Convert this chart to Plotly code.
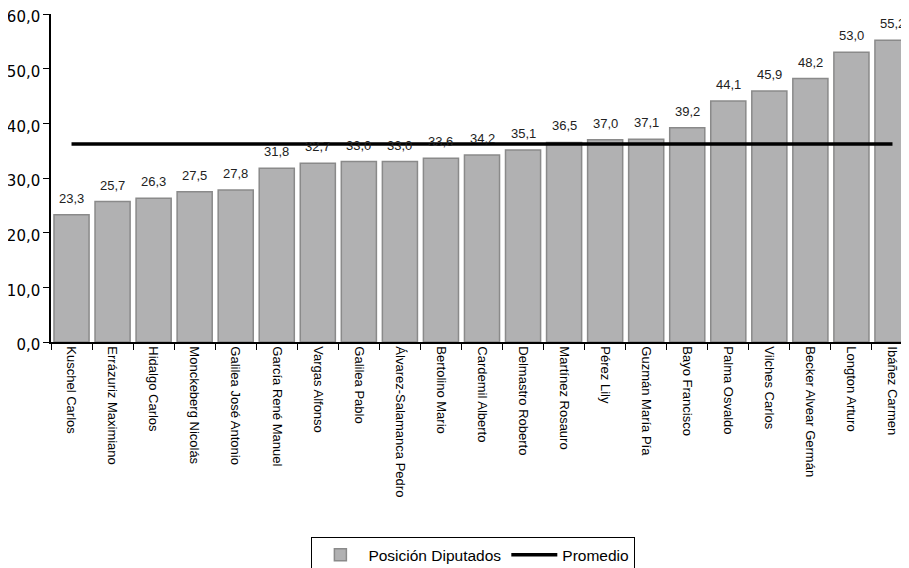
import plotly.graph_objects as go

categorias = ["Kuschel Carlos", "Errázuriz Maximiano", "Hidalgo Carlos", "Monckeberg Nicolás",
              "Galilea José Antonio", "García René Manuel", "Vargas Alfonso", "Galilea Pablo",
              "Álvarez-Salamanca Pedro", "Bertolino Mario", "Cardemil Alberto", "Delmastro Roberto",
              "Martínez Rosauro", "Pérez Lily", "Guzmán María Pía", "Bayo Francisco",
              "Palma Osvaldo", "Vilches Carlos", "Becker Alvear Germán", "Longton Arturo",
              "Ibáñez Carmen"]
posicion = [23.3, 25.7, 26.3, 27.5, 27.8, 31.8, 32.7, 33.0, 33.0, 33.6, 34.2, 35.1,
            36.5, 37.0, 37.1, 39.2, 44.1, 45.9, 48.2, 53.0, 55.2]
promedio = [36.2] * len(categorias)

fig = go.Figure()
fig.add_trace(go.Bar(
    x=categorias, y=posicion, name="Posición Diputados",
    marker=dict(color="#b1b1b2", line=dict(color="#8a8a8a", width=1.5)),
))
fig.add_trace(go.Scatter(
    x=categorias, y=promedio, name="Promedio", mode="lines",
    line=dict(color="black", width=3.5),
))

for c, v in zip(categorias, posicion):
    fig.add_annotation(
        x=c, y=v, text=f"{v:.1f}".replace(".", ","), showarrow=False,
        yanchor="bottom", yshift=7,
        font=dict(family="Liberation Sans, Arial", size=13, color="#222222"),
    )

fig.update_layout(
    width=905, height=560,
    margin=dict(l=43, r=0, t=6, b=226, autoexpand=False),
    paper_bgcolor="white", plot_bgcolor="white",
    separators=",.",
    bargap=0.145,
    font=dict(family="Liberation Sans, Arial", color="black"),
    showlegend=True,
    legend=dict(orientation="h", x=0.49, xanchor="center", y=-0.595, yanchor="top",
                bordercolor="black", borderwidth=1, font=dict(size=15.5),
                itemwidth=46, traceorder="normal"),
)
fig.update_xaxes(
    automargin=False,
    showline=True, linecolor="black", linewidth=1.5,
    ticks="outside", tickson="boundaries", ticklen=6, tickcolor="black",
    tickangle=90, tickfont=dict(size=13, family="Liberation Sans, Arial"),
    showgrid=False,
)
fig.update_yaxes(
    automargin=False, ticklabeloverflow="allow", ticklabelshift=3,
    range=[0, 60], dtick=10, tickformat=".1f",
    showline=True, linecolor="black", linewidth=1.5,
    ticks="outside", ticklen=6, tickcolor="black",
    tickfont=dict(size=15, family="DejaVu Sans"),
    showgrid=False, zeroline=False,
)

fig.write_html("out.html")
